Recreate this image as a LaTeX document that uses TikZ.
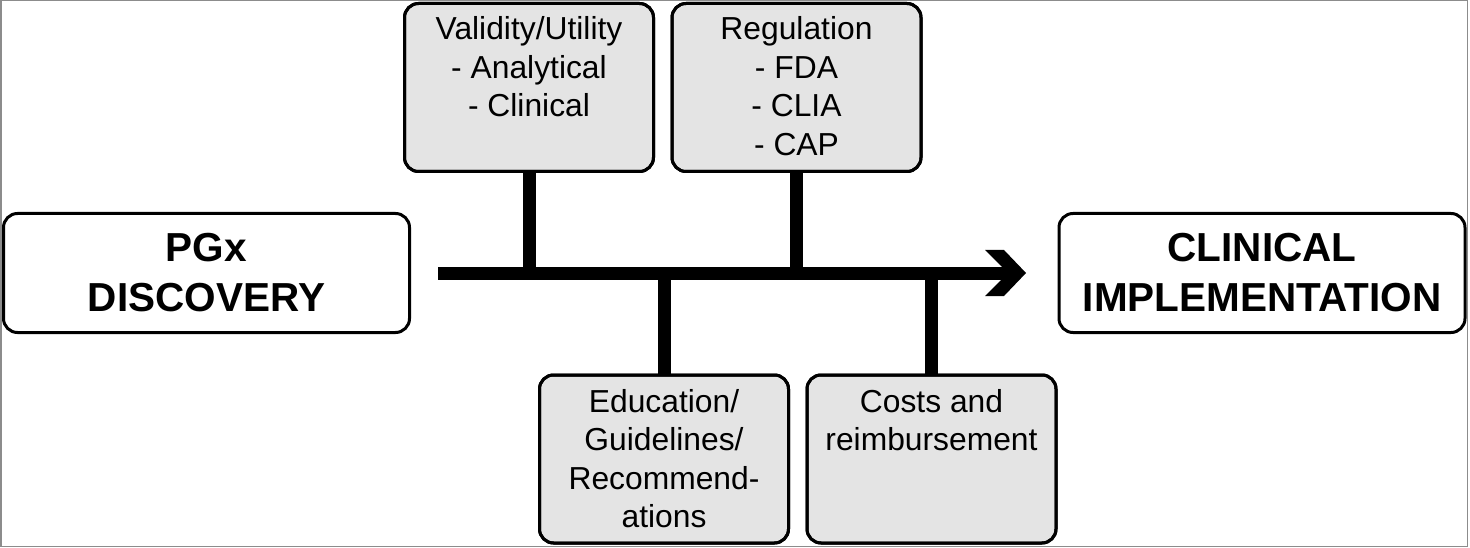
\documentclass[tikz,border=0pt]{standalone}
\usepackage{fontspec}
\setmainfont{Liberation Sans}
\definecolor{boxgray}{HTML}{E4E4E4}
\definecolor{framegray}{HTML}{8C8C8C}
\begin{document}
\begin{tikzpicture}[x=1pt,y=-1pt,
  box/.style={draw, line width=3pt, rounded corners=14pt, fill=boxgray, inner sep=0pt},
  endbox/.style={box, fill=white, align=center, minimum width=406pt, minimum height=119pt,
    font=\bfseries\fontsize{40.5}{50}\selectfont},
  sidebox/.style={box, minimum width=249pt, minimum height=168pt},
  sidetext/.style={anchor=north, align=center, inner sep=0pt, font=\fontsize{31.8}{38.5}\selectfont},
  bar/.style={line width=13pt}]
\useasboundingbox (0,0) rectangle (1470,548);
\draw[framegray, line width=1.5pt] (0.75,0.75) rectangle (1467.5,546.5);

% end boxes
\node[endbox] (pgx) at (206.5,273) {PGx\\DISCOVERY};
\node[endbox] (clin) at (1262,273) {CLINICAL\\IMPLEMENTATION};

% side boxes
\node[sidebox] (val) at (529,87.5) {};
\node[sidebox] (reg) at (796.5,87.5) {};
\node[sidebox] (edu) at (664,459) {};
\node[sidebox] (cost) at (931.5,459) {};

% main line with chevron arrow head
\coordinate (tip) at ([xshift=-31.5pt]clin.west);
\draw[bar] ([xshift=27pt]pgx.east) -- ([xshift=-46pt]clin.west);
\fill (tip) ++(-41,-23) -- ++(19,0) -- ++(22,23) -- ++(-22,23) -- ++(-19,0) -- ++(23,-23) -- cycle;

% stems
\draw[bar] (val.south) -- (val.south |- pgx.east);
\draw[bar] (reg.south) -- (reg.south |- pgx.east);
\draw[bar] (edu.north) -- (edu.north |- pgx.east);
\draw[bar] (cost.north) -- (cost.north |- pgx.east);

% redraw box outlines over stems
\node[sidebox, fill=none] at (val) {};
\node[sidebox, fill=none] at (reg) {};
\node[sidebox, fill=none] at (edu) {};
\node[sidebox, fill=none] at (cost) {};

% texts
\node[sidetext] (valt) at ([yshift=-14.5pt]val.north) {Validity/Utility\\- Analytical\\- Clinical};
\node[sidetext] (regt) at ([yshift=-14.5pt]reg.north) {Regulation\\- FDA\\- CLIA\\- CAP};
\node[sidetext] (edut) at ([yshift=-15.5pt]edu.north) {Education/\\Guidelines/\\Recommend-\\ations};
\node[sidetext] (costt) at ([yshift=-15.5pt]cost.north) {Costs and\\reimbursement};
\end{tikzpicture}
\end{document}
